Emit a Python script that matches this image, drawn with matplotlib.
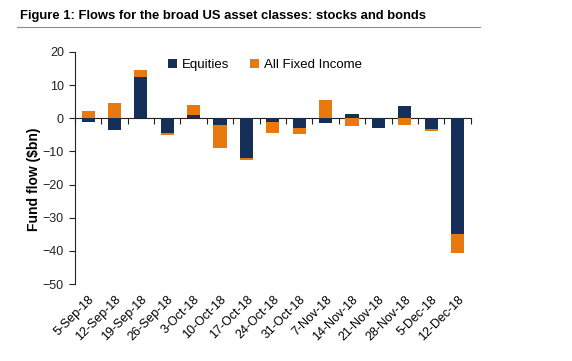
import matplotlib
matplotlib.use("Agg")
import matplotlib.pyplot as plt
import numpy as np

plt.rcParams['font.family'] = ['Liberation Sans', 'DejaVu Sans']

dates = ["5-Sep-18", "12-Sep-18", "19-Sep-18", "26-Sep-18", "3-Oct-18", "10-Oct-18",
         "17-Oct-18", "24-Oct-18", "31-Oct-18", "7-Nov-18", "14-Nov-18", "21-Nov-18",
         "28-Nov-18", "5-Dec-18", "12-Dec-18"]
equities = [-1.1, -3.6, 12.5, -4.4, 1.0, -2.0, -11.9, -1.0, -2.9, -1.5, 1.2, -2.8, 3.7, -3.3, -34.8]
fixed_income = [2.2, 4.6, 2.0, -0.7, 3.1, -7.0, -0.6, -3.3, -1.9, 5.5, -2.4, 0.0, -1.9, -0.4, -5.7]

navy = "#152f58"
orange = "#e8790e"

eq = np.array(equities)
fi = np.array(fixed_income)
x = np.arange(len(dates))

# excel style stacking: positives on positives, negatives on negatives
fi_base = np.where(np.sign(fi) == np.sign(eq), eq, 0.0)

fig = plt.figure(figsize=(5.72, 3.61), dpi=100)
ax = fig.add_axes([0.131, 0.213, 0.692, 0.643])

ax.bar(x, eq, 0.5, color=navy, label="Equities", zorder=2)
ax.bar(x, fi, 0.5, bottom=fi_base, color=orange, label="All Fixed Income", zorder=2)

ax.set_xlim(-0.5, len(dates) - 0.5)
ax.set_ylim(-50, 20)
ax.set_yticks(range(-50, 21, 10))
ax.tick_params(axis="y", direction="out", length=4, labelsize=9, colors="#222222", pad=4)

for s in ["top", "right", "bottom"]:
    ax.spines[s].set_visible(False)
ax.spines["left"].set_color("#222222")

ax.set_xticks(x)
ax.set_xticklabels(dates, rotation=45, ha="right", rotation_mode="anchor", fontsize=9)
ax.tick_params(axis="x", length=0, pad=7)

# zero line with ticks between categories
sec = ax.secondary_xaxis(0, transform=ax.transData)
sec.set_xticks(np.arange(len(dates) + 1) - 0.5)
sec.set_xticklabels([])
sec.tick_params(direction="out", length=4, color="#222222")
sec.spines["bottom"].set_color("#222222")

ax.set_ylabel("Fund flow ($bn)", fontsize=10, fontweight="bold")
ax.yaxis.set_label_coords(-0.085, 0.45)

ax.legend(loc="upper center", bbox_to_anchor=(0.48, 1.02), ncol=2, frameon=False,
          fontsize=9.5, handlelength=0.7, handleheight=0.7, handletextpad=0.4,
          columnspacing=1.5)

fig.text(0.035, 0.955, "Figure 1: Flows for the broad US asset classes: stocks and bonds",
         fontsize=9.4, fontweight="bold", va="center", ha="left")
fig.add_artist(plt.Line2D([0.03, 0.84], [0.925, 0.925], color="#7f8ea3", lw=0.8))

fig.savefig("out.png", dpi=100)
